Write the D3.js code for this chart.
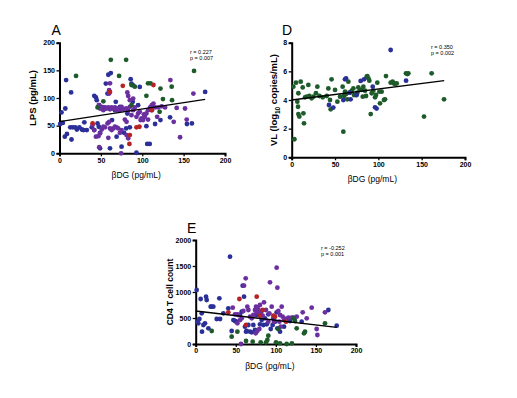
<!DOCTYPE html>
<html><head><meta charset="utf-8">
<script src="https://cdn.jsdelivr.net/npm/d3@7"></script>
<style>body{margin:0;background:#fff}svg{display:block;font-family:"Liberation Sans",Arial,sans-serif}</style>
</head><body><svg id="c" width="517" height="398"></svg>
<script>
// ---- Panel A: LPS vs βDG ----
const aBlue=[[0.8,53],[4,55],[2.4,74],[8,132.5],[7,81],[6.4,30],[9,35],[13,47],[16,47],[19,47],[14,110],[14.5,25],[21,43],[24,47],[27,43],[29,42],[30,56],[33,42],[39,47],[42,42],[42,104],[44,101],[45,96],[47.5,48],[48,87],[49,37],[49,9],[53,83],[56,126],[58,108],[59,142],[62,145],[61,9],[67,78],[68,93],[69,30],[73,84],[75,12],[78,37],[80.5,45],[82,72],[85,47],[86,134],[87,126],[88.5,93],[89,123],[93,1],[95,87],[97,120],[105,49],[106,17],[109,17],[115.5,53],[122,60],[133.6,65],[154,53],[160,54],[176,111],[63.5,60],[46,54]];
const aPurple=[[47.5,87],[49,81],[51,84],[53,78],[55,83],[57,81],[59,83],[61,79.5],[63,83],[65,81],[67,83],[69,78],[71,81],[73,78],[75,84],[77,79.5],[80.5,81],[83,77],[85,84],[87,69],[89,78],[91,83],[93,66],[95,72],[97,75],[99,63],[101,60],[103,66],[105,72],[107,78],[109.5,83],[111.5,87],[113.5,90],[115.5,83],[119.5,83],[123.5,85],[127.6,83],[134,132.5],[138,57],[141.6,82],[145.7,29],[151.7,81],[153.7,61],[161.8,108],[40,51],[42,42],[44,30],[47,31],[49,36],[51,43],[53,48],[55,47],[58,54],[60,57],[61,45],[63,42],[65,45],[67,48],[69,47],[71,45],[73,37],[75,42],[79,61],[81,57],[82,110],[83,103.6],[85,96],[60,114],[60,108],[61,126.5],[48,11],[59,28],[74.4,0],[81,33],[83,27],[89,99],[98,60],[102,70.5],[107,61],[111.5,78],[118,66]];
const aGreen=[[20,140],[62,169],[80.5,169],[72,140],[87,123.5],[91,120.5],[107,126.5],[110,126.5],[46,83],[53,94],[122,117],[125,98],[121,75],[135.6,120.5],[136,96],[162.6,149],[87,87],[105,104]];
const aRed=[[40,54],[61,111],[76.5,122],[85,33],[84.5,17],[93,47],[96.6,48],[111.5,78],[113.5,123.5]];
const aFit=[57.2,0.2295];
const aStats=["r = 0.227","p = 0.007"];

// ---- Panel D: VL vs βDG ----
const dGreen=[[1.9,4.93],[5,5.21],[6.5,3.88],[7.3,3.53],[7.7,3.02],[8.8,2.84],[7.7,4.47],[10.4,5.28],[12.7,4.88],[13.5,3.07],[14.2,2.37],[15.4,4.19],[17.3,4.23],[19.2,5.05],[20.4,4.28],[23,4.12],[25,4.23],[28,4.47],[29.6,4.93],[32,4.28],[35.8,4.19],[40.4,4.28],[42.3,4.81],[44.2,4.0],[45,3.35],[46,5.44],[50,4.7],[52.7,3.88],[55.8,4.23],[58.8,4.93],[59.6,1.79],[60.4,4.28],[61.5,4.58],[62.7,4.42],[64.2,4.05],[65.4,5.28],[67.3,4.51],[69.2,4.65],[71.2,4.81],[72,4.35],[74.2,4.35],[75.8,4.51],[76.9,4.88],[78.8,4.7],[80.8,4.7],[82,4.23],[82.7,4.93],[84.6,4.65],[85.8,4.28],[86.5,5.63],[87.3,5.67],[88.5,5.51],[89.6,5.35],[92.3,4.47],[91.2,3.02],[94.2,4.65],[96.2,4.19],[97.3,4.35],[98.8,5.21],[101.2,4.58],[101.9,3.77],[103.8,4.58],[106.5,4.0],[107.7,4.05],[108.8,5.67],[114.2,5.21],[116.5,5.28],[118,5.16],[119.2,5.12],[121.2,5.16],[131.9,5.86],[133.5,5.81],[134.6,5.86],[152.7,2.84],[161.5,5.86],[175.8,4.05],[3.1,1.26]];
const dBlue=[[43,3.65],[48,3.47],[59.6,4.0],[61.5,5.44],[62.7,5.51],[66.5,4.51],[68,4.05],[75,4.35],[79.6,5.33],[83.5,5.44],[93.5,4.93],[96.2,3.49],[98,3.4],[114.2,7.49],[132,5.35]];
const dFit=[4.0,0.00767];
const dStats=["r = 0.350","p = 0.002"];

// ---- Panel E: CD4 vs βDG ----
const eBlue=[[1.2,1038],[2,429],[3.3,397],[4.6,481],[6.2,865],[7.5,590],[7.9,237],[9.6,365],[11.6,397],[12.9,910],[13.7,846],[15.8,301],[18.7,718],[20,718],[22,718],[26.2,481],[29.5,878],[30.4,481],[34.5,590],[40.7,686],[42.8,1679],[44.9,250],[47,461],[51,429],[55.3,558],[57.4,622],[58.6,1122],[60.3,910],[61.5,333],[62.8,237],[63.6,250],[65.7,365],[67.8,237],[69.9,224],[71.9,365],[74,269],[76.1,558],[80.2,378],[82.3,461],[84.4,365],[86.5,494],[88.6,378],[90.6,570],[93.6,288],[96.9,494],[99,429],[101.9,301],[105.2,237],[110.2,333],[113.5,481],[117.7,442],[121.8,506],[132.2,429],[165.5,654],[175.9,353],[49,442],[96,365],[101,609]];
const ePurple=[[46.2,699],[49,570],[52,397],[53.2,558],[55.3,461],[57.4,494],[59.5,635],[60.3,1122],[62.4,1263],[64.4,718],[65.7,654],[67.8,526],[69.9,494],[71.9,558],[74,654],[75.3,718],[76.1,609],[76.9,699],[78.2,654],[80.2,750],[81.1,590],[82.3,635],[83.6,545],[85.2,801],[87.7,654],[90.6,429],[91.9,590],[92.7,1186],[94.8,718],[97.7,429],[101,1468],[101.9,1083],[103.1,635],[104.4,429],[105.2,558],[106,333],[107.3,718],[108.5,526],[110.2,461],[111.4,481],[115.6,506],[119.8,506],[126,526],[133.5,609],[138.5,494],[144.7,699],[150.9,288],[151.8,173],[161.3,609],[56.5,0],[74.8,205],[76.9,250],[79.4,288],[52,570]];
const eGreen=[[20,250],[44.9,141],[52,237],[62.8,58],[71.1,45],[81.1,32],[87.7,32],[90.6,160],[89.4,77],[100.2,32],[103.1,288],[105.2,13],[113.5,0],[121.8,494],[123.9,442],[126,301],[135.1,205],[136.4,237],[161.3,397],[120,13]];
const eRed=[[40.7,609],[54.5,865],[62.8,365],[76.1,910],[80.2,545],[83.6,654],[96.9,545],[99,526],[112.7,429]];
const eFit=[635,-1.79];
const eStats=["r = -0.252","p = 0.001"];

const xTicks=[0,50,100,150,200];
const aYTicks=[0,50,100,150,200];
const dYTicks=[0,2,4,6,8];
const eYTicks=[0,500,1000,1500,2000];

const C={blue:"#2b2f98",purple:"#6b2fa0",green:"#1e5b2a",red:"#b52325"};
const svg=d3.select("#c");

function panel(o){
  const x=d3.scaleLinear().domain([0,200]).range([o.x0,o.x1]);
  const y=d3.scaleLinear().domain([0,o.ymax]).range([o.y0,o.y1]);
  const g=svg.append("g");
  const xa=g.append("g").attr("transform",`translate(0,${o.y0})`)
    .call(d3.axisBottom(x).tickValues(xTicks).tickFormat(d3.format("d")).tickSize(3).tickPadding(1.5));
  const ya=g.append("g").attr("transform",`translate(${o.x0},0)`)
    .call(d3.axisLeft(y).tickValues(o.yt).tickFormat(d3.format("d")).tickSize(3).tickPadding(1.5));
  [xa,ya].forEach(a=>{
    a.select(".domain").attr("stroke","#000").attr("stroke-width",2);
    a.selectAll(".tick line").attr("stroke","#000").attr("stroke-width",1.3);
    a.selectAll("text").attr("font-size",7).attr("font-weight","bold").attr("fill","#000")
      .attr("font-family","Liberation Sans, Arial, sans-serif");
  });
  o.groups.forEach(([arr,col])=>{
    g.append("g").selectAll("circle").data(arr).join("circle")
      .attr("cx",d=>x(d[0])).attr("cy",d=>y(d[1])).attr("r",2.4).attr("fill",col);
  });
  g.append("line").attr("x1",x(0)).attr("y1",y(o.fit[0])).attr("x2",x(176)).attr("y2",y(o.fit[0]+o.fit[1]*176))
    .attr("stroke","#000").attr("stroke-width",1.4);
  o.stats.forEach((s,i)=>g.append("text").attr("x",o.sx).attr("y",o.sy+i*6.2).attr("font-size",5.5).text(s));
  g.append("text").attr("x",o.lx).attr("y",o.ly).attr("font-size",14).text(o.letter);
  g.append("text").attr("x",(o.x0+o.x1)/2-6).attr("y",o.y0+25).attr("text-anchor","middle")
    .attr("font-size",8.5).text("βDG (pg/mL)");
  const yt=g.append("text").attr("transform",`translate(${o.tx},${(o.y0+o.y1)/2})rotate(-90)`)
    .attr("text-anchor","middle").attr("font-size",9.5).attr("font-weight","bold");
  o.ytitle(yt);
}

panel({x0:59.5,x1:225,y0:153.3,y1:42.7,ymax:200,yt:aYTicks,fit:aFit,stats:aStats,sx:190,sy:53.5,
  lx:51.5,ly:35,letter:"A",tx:36,
  groups:[[aBlue,C.blue],[aPurple,C.purple],[aGreen,C.green],[aRed,C.red]],
  ytitle:t=>t.text("LPS (pg/mL)")});
panel({x0:291.7,x1:465,y0:157.3,y1:42.7,ymax:8,yt:dYTicks,fit:dFit,stats:dStats,sx:431,sy:48.5,
  lx:282,ly:35,letter:"D",tx:277,
  groups:[[dGreen,C.green],[dBlue,C.blue]],
  ytitle:t=>{t.append("tspan").text("VL (log");t.append("tspan").attr("font-size",6.5).attr("dy",2.5).text("10");
    t.append("tspan").attr("dy",-2.5).text(" copies/mL)");}});
panel({x0:195.7,x1:356,y0:344,y1:240,ymax:2000,yt:eYTicks,fit:eFit,stats:eStats,sx:321,sy:249.5,
  lx:187,ly:233,letter:"E",tx:172.5,
  groups:[[eBlue,C.blue],[ePurple,C.purple],[eGreen,C.green],[eRed,C.red]],
  ytitle:t=>t.attr("font-size",8.5).text("CD4 T cell count")});
</script></body></html>
